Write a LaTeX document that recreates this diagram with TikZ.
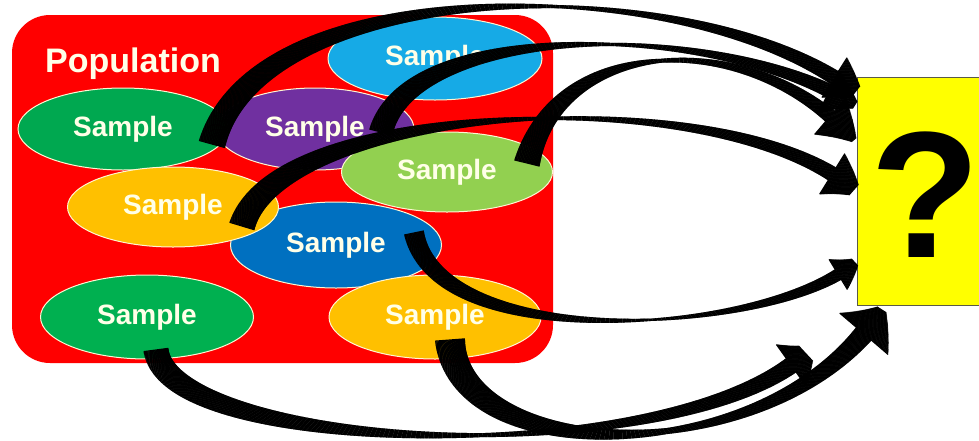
\documentclass[tikz,border=0pt]{standalone}
\usepackage{fontspec}
\setmainfont{Liberation Sans}
\usetikzlibrary{decorations.markings,calc,shapes.geometric}
\definecolor{popred}{RGB}{255,0,0}
\definecolor{cEdge}{RGB}{255,246,210}
\definecolor{cText}{RGB}{255,255,232}
\definecolor{cCyan}{RGB}{22,170,230}
\definecolor{cGreenA}{RGB}{0,168,80}
\definecolor{cPurple}{RGB}{112,48,160}
\definecolor{cLime}{RGB}{146,208,80}
\definecolor{cAmber}{RGB}{255,192,0}
\definecolor{cBlue}{RGB}{0,112,192}
\definecolor{cGreenB}{RGB}{0,176,80}
\definecolor{qyellow}{RGB}{255,255,0}
\definecolor{boxedge}{RGB}{90,90,70}
\tikzset{
  samp/.style={ellipse, draw=cEdge, line width=1pt, inner sep=0pt, text=cText,
    font=\fontsize{28pt}{28pt}\selectfont\bfseries},
  taper/.style n args={6}{
    decoration={markings,
      mark=between positions 0 and 1 step 0.8pt with {%
        \pgfmathsetmacro\tpd{\pgfkeysvalueof{/pgf/decoration/mark info/distance from start}}%
        \pgfmathsetmacro\tpL{\pgfdecoratedpathlength}%
        \pgfmathsetmacro\tpf{\tpd/\tpL}%
        \pgfmathsetmacro\tpu{abs(\tpf-#6)/(\tpf<#6 ? #6 : 1-#6)}%
        \pgfmathsetmacro\tpa{\tpf<#6 ? #1 : #3}%
        \pgfmathsetmacro\tph{#2+(\tpa-#2)*\tpu*(0.8+0.2*\tpu)}%
        \pgfmathsetmacro\tpk{#4/#5}%
        \pgfmathsetmacro\tph{\tpd>\tpL-#5 ? (\tpL-\tpd)*\tpk : \tph}%
        \fill (-0.6pt,-\tph pt) rectangle (0.6pt,\tph pt);%
      }
    },
    decorate
  }
}
\begin{document}
\begin{tikzpicture}[x=1pt,y=-1pt]
\useasboundingbox (0,0) rectangle (979,440);
\clip (0,0) rectangle (979,440);
\fill[white] (0,0) rectangle (979,440);
% population
\node[fill=popred, rounded corners=38pt, minimum width=541pt, minimum height=348pt, inner sep=0pt] (pop) at (282.5,189) {};
\node[anchor=base west, inner sep=0pt, text=cText, font=\fontsize{34pt}{34pt}\selectfont\bfseries] (poplab) at (45,72) {Population};
% samples
\node[samp, fill=cCyan,   minimum width=214pt, minimum height=83pt] (e1) at (435,58.5) {\raisebox{5pt}{Sample}};
\node[samp, fill=cPurple, minimum width=198pt, minimum height=82pt] (e3) at (315,129) {Sample\hspace{18pt}};
\node[samp, fill=cGreenA, minimum width=210pt, minimum height=82pt] (e2) at (123,129) {Sample};
\node[samp, fill=cLime,   minimum width=211pt, minimum height=80pt] (e4) at (447,172) {Sample};
\node[samp, fill=cBlue,   minimum width=211pt, minimum height=86pt] (e6) at (336,245) {Sample};
\node[samp, fill=cAmber,  minimum width=211pt, minimum height=80pt] (e5) at (173,207) {Sample};
\node[samp, fill=cGreenB, minimum width=213pt, minimum height=84pt] (e7) at (147,317) {Sample};
\node[samp, fill=cAmber,  minimum width=212pt, minimum height=84pt] (e8) at (435,317) {Sample};
% question box
\node[draw=boxedge, line width=1.2pt, fill=qyellow, anchor=north west, minimum width=150pt, minimum height=228pt, inner sep=0pt] (q) at (857,77) {};
\node[anchor=base, inner sep=0pt, font=\fontsize{180pt}{180pt}\selectfont\bfseries] (qm) at (925,257) {?};
% arrows
\path[taper={13.5}{1.6}{8.5}{24}{38}{0.55}] ($(e2)+(89,15)$) .. controls +(48,-174) and +(-155,-122) .. ($(q.north west)+(-2,15)$);
\path[taper={12}{1.6}{8}{23}{36}{0.5}] ($(e3)+(66,3)$) .. controls +(29,-112) and +(-135,-85) .. ($(q.north west)+(-2,28)$);
\path[taper={13}{2}{8.5}{24}{38}{0.45}] ($(e4)+(80,-9)$) .. controls +(33,-133) and +(-94,-110) .. ($(q.north west)+(-3,63)$);
\path[taper={13}{1.6}{8.5}{24}{38}{0.5}] ($(e5)+(69,19)$) .. controls +(38,-126) and +(-124,-110) .. ($(q.north west)+(-3,113)$);
\path[taper={10}{1.2}{7}{18}{28}{0.55}] ($(e6)+(78,-12)$) .. controls +(26,125) and +(-75,70) .. ($(q.north west)+(-2,185)$);
\path[taper={12.5}{2}{9.5}{26}{32}{0.5}] ($(e7)+(9,33)$) .. controls +(14,105) and +(-126,118) .. ($(q.south west)+(-51,47)$);
\path[taper={15}{3}{11.5}{32}{36}{0.5}] ($(e8)+(15,23)$) .. controls +(10,130) and +(-102,162) .. ($(q.south west)+(25,3)$);
\end{tikzpicture}
\end{document}
